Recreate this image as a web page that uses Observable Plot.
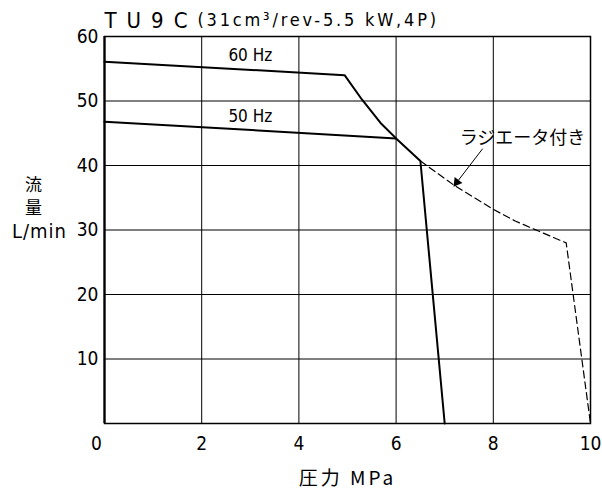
<!DOCTYPE html>
<html><head><meta charset="utf-8">
<script src="https://cdn.jsdelivr.net/npm/d3@7"></script>
<script src="https://cdn.jsdelivr.net/npm/@observablehq/plot@0.6"></script>
<style>
body{margin:0;background:#fff;}
#chart svg text{font-stretch:condensed;}
</style></head>
<body><div id="chart"></div>
<script>
// Data
const xTicks = [0, 2, 4, 6, 8, 10];
const yTicks = [10, 20, 30, 40, 50, 60];
const line60 = [[0, 56.1], [4.94, 54.0], [5.3, 50.2], [5.68, 46.6], [6.0, 44.2], [6.5, 40.7], [7.0, 0]];
const line50 = [[0, 46.8], [6.0, 44.2]];
const radiator = [[6.5, 40.7], [7.2, 36.9], [8.0, 33.2], [8.45, 31.4], [8.85, 30.1], [9.5, 28.0], [10.0, 0]];
const seriesLabels = [{x: 3.0, y: 57.0, t: "60 Hz"}, {x: 3.0, y: 47.6, t: "50 Hz"}];
const annot = {x: 8.6, y: 44.3, t: "ラジエータ付き", from: [7.78, 42.6], to: [7.22, 37.1], head: [7.25, 37.4]};
const titleMain = "TU9C";
const titleSub = "(31cm³/rev-5.5 kW,4P)";
const xLabel = "圧力 MPa";
const yLabelLines = ["流", "量", "L/min"];

const jp = "'Noto Sans CJK JP', sans-serif";
const num = "'DejaVu Sans Condensed','DejaVu Sans',sans-serif";

const toObj = a => a.map(([x, y]) => ({x, y}));

const chart = Plot.plot({
  width: 602, height: 491,
  marginLeft: 104, marginRight: 12, marginTop: 36, marginBottom: 68,
  x: {domain: [0, 10]},
  y: {domain: [0, 60]},
  style: {fontFamily: num},
  marks: [
    Plot.gridX(xTicks, {stroke: "#000", strokeOpacity: 1, strokeWidth: 1}),
    Plot.gridY(yTicks, {stroke: "#000", strokeOpacity: 1, strokeWidth: 1}),
    Plot.frame({stroke: "#000", strokeWidth: 1.5}),
    Plot.ruleX([0], {stroke: "#000", strokeWidth: 2.2}),
    Plot.axisY(yTicks, {tickSize: 0, tickPadding: 6, fontSize: 19, label: null, fontFamily: num}),
    Plot.axisX(xTicks.filter(d => d > 0), {tickSize: 0, tickPadding: 13, fontSize: 19, label: null, fontFamily: num}),
    Plot.axisX([0], {tickSize: 0, tickPadding: 13, fontSize: 19, label: null, dx: -8, fontFamily: num}),
    Plot.line(toObj(radiator), {x: "x", y: "y", stroke: "#000", strokeWidth: 1.2, strokeDasharray: "7,4"}),
    Plot.line(toObj(line60), {x: "x", y: "y", stroke: "#000", strokeWidth: 2}),
    Plot.line(toObj(line50), {x: "x", y: "y", stroke: "#000", strokeWidth: 2}),
    Plot.text(seriesLabels, {x: "x", y: "y", text: "t", fontSize: 17, fill: "#000", fontFamily: num}),
    Plot.text([annot], {x: "x", y: "y", text: "t", fontSize: 18, fontFamily: jp, fill: "#000"}),
    Plot.link([annot], {x1: d => d.from[0], y1: d => d.from[1], x2: d => d.to[0], y2: d => d.to[1], stroke: "#000", strokeWidth: 1}),
    Plot.dot([annot], {x: d => d.head[0], y: d => d.head[1], symbol: "triangle", r: 3.6, fill: "#000", stroke: "none", rotate: 217}),
    Plot.text([titleMain], {frameAnchor: "top-left", text: d => d, dy: -16, dx: 0, fontSize: 22, fontFamily: num, textAnchor: "start", lineAnchor: "middle", fill: "#000"}),
    Plot.text([titleSub], {frameAnchor: "top-left", text: d => d, dy: -16, dx: 93, fontSize: 18, fontFamily: num, textAnchor: "start", lineAnchor: "middle", fill: "#000"}),
    Plot.text([xLabel], {frameAnchor: "bottom", text: d => d, dy: 55, fontSize: 19, fontFamily: jp, lineAnchor: "middle", fill: "#000"}),
    Plot.text(["流"], {frameAnchor: "left", text: d => d, dx: -71, dy: -44, fontSize: 17, fontFamily: jp, textAnchor: "middle", lineAnchor: "middle", fill: "#000"}),
    Plot.text(["量"], {frameAnchor: "left", text: d => d, dx: -71, dy: -21, fontSize: 17, fontFamily: jp, textAnchor: "middle", lineAnchor: "middle", fill: "#000"}),
    Plot.text(["L/min"], {frameAnchor: "left", text: d => d, dx: -65, dy: 2, fontSize: 20, fontFamily: num, textAnchor: "middle", lineAnchor: "middle", fill: "#000"})
  ]
});
document.getElementById("chart").appendChild(chart);
// letter spacing for title and axis label texts
chart.querySelectorAll("text").forEach(t => {
  if (t.textContent === titleMain) t.setAttribute("letter-spacing", "10");
  if (t.textContent === titleSub) t.setAttribute("letter-spacing", "2.8");
  if (t.textContent === xLabel) t.setAttribute("letter-spacing", "3");
  if (t.textContent === "L/min") t.setAttribute("letter-spacing", "1");
});
</script>
</body></html>
